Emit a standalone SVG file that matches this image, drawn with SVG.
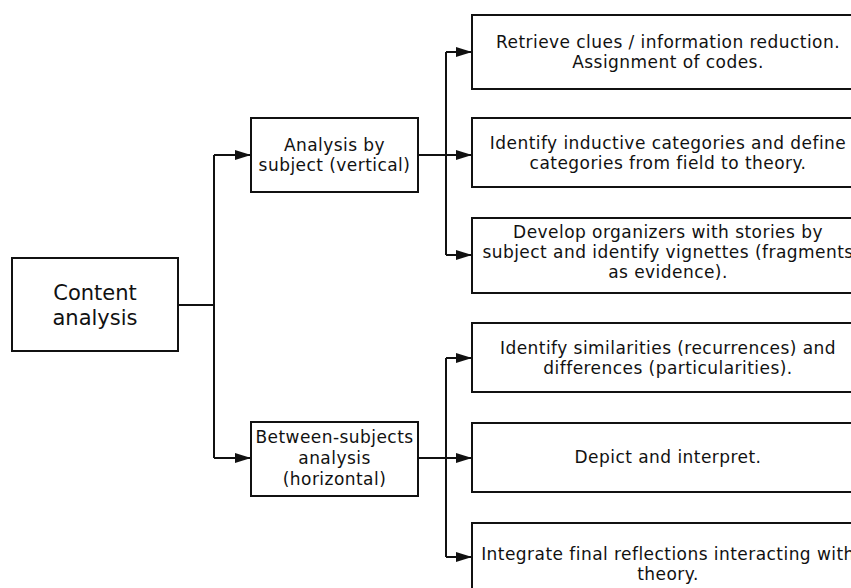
<svg xmlns="http://www.w3.org/2000/svg" width="851" height="588" viewBox="0 0 851 588">
<style>
.box{fill:#fff;stroke:#111;stroke-width:2}
.t{font-family:"DejaVu Sans","Liberation Sans",sans-serif;font-size:17px;letter-spacing:0.45px;fill:#111;text-anchor:middle}
.big{font-size:21px;letter-spacing:0}
.c{fill:none;stroke:#111;stroke-width:2}
</style>
<defs>
<marker id="ah" markerUnits="userSpaceOnUse" markerWidth="17" markerHeight="11" refX="16" refY="5" orient="auto">
<path d="M0,0 L16,5 L0,10 z" fill="#111"/>
</marker>
</defs>
<rect width="851" height="588" fill="#fff"/>
<g id="connectors">
<path class="c" d="M178,305 H214"/>
<path class="c" d="M214,155 V458"/>
<path class="c" d="M214,155 H251" marker-end="url(#ah)"/>
<path class="c" d="M214,458 H251" marker-end="url(#ah)"/>
<path class="c" d="M418,155 H472" marker-end="url(#ah)"/>
<path class="c" d="M446,52 V255"/>
<path class="c" d="M446,52 H472" marker-end="url(#ah)"/>
<path class="c" d="M446,255 H472" marker-end="url(#ah)"/>
<path class="c" d="M418,458 H472" marker-end="url(#ah)"/>
<path class="c" d="M446,358 V557"/>
<path class="c" d="M446,358 H472" marker-end="url(#ah)"/>
<path class="c" d="M446,557 H472" marker-end="url(#ah)"/>
</g>
<g id="content-analysis">
<rect class="box" x="12" y="258" width="166" height="93"/>
<text class="t big" x="95" y="299.5">Content</text>
<text class="t big" x="95" y="324.5">analysis</text>
</g>
<g id="by-subject">
<rect class="box" x="251" y="118" width="167" height="74"/>
<text class="t" x="334.5" y="151">Analysis by</text>
<text class="t" x="334.5" y="171">subject (vertical)</text>
</g>
<g id="between-subjects">
<rect class="box" x="251" y="422" width="167" height="74"/>
<text class="t" x="334.5" y="443">Between-subjects</text>
<text class="t" x="334.5" y="464">analysis</text>
<text class="t" x="334.5" y="485">(horizontal)</text>
</g>
<g id="retrieve">
<rect class="box" x="472" y="15" width="392" height="74"/>
<text class="t" x="668" y="48">Retrieve clues / information reduction.</text>
<text class="t" x="668" y="68">Assignment of codes.</text>
</g>
<g id="inductive">
<rect class="box" x="472" y="118" width="392" height="69"/>
<text class="t" x="668" y="148.5">Identify inductive categories and define</text>
<text class="t" x="668" y="168.5">categories from field to theory.</text>
</g>
<g id="organizers">
<rect class="box" x="472" y="218" width="392" height="75"/>
<text class="t" x="668" y="238">Develop organizers with stories by</text>
<text class="t" x="668" y="258">subject and identify vignettes (fragments</text>
<text class="t" x="668" y="278">as evidence).</text>
</g>
<g id="similarities">
<rect class="box" x="472" y="323" width="392" height="69"/>
<text class="t" x="668" y="353.5">Identify similarities (recurrences) and</text>
<text class="t" x="668" y="373.5">differences (particularities).</text>
</g>
<g id="depict">
<rect class="box" x="472" y="423" width="392" height="69"/>
<text class="t" x="668" y="463">Depict and interpret.</text>
</g>
<g id="integrate">
<rect class="box" x="472" y="523" width="392" height="75"/>
<text class="t" x="668" y="560">Integrate final reflections interacting with</text>
<text class="t" x="668" y="580">theory.</text>
</g>
</svg>
